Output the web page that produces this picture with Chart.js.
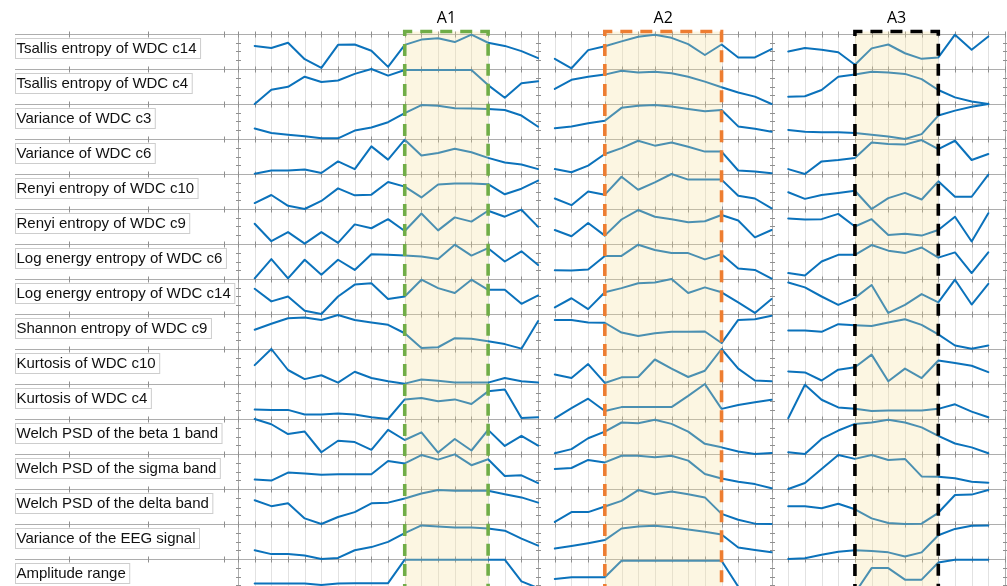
<!DOCTYPE html>
<html>
<head>
<meta charset="utf-8">
<title>Feature trends across segments A1, A2, A3</title>
<style>
  html, body { margin: 0; padding: 0; background: #ffffff; overflow: hidden; }
  #wrap { width: 1007px; height: 586px; position: relative; }
  canvas { display: block; }
</style>
<script src="https://cdn.jsdelivr.net/npm/chart.js@4.4.1/dist/chart.umd.min.js"></script>
</head>
<body>
<div id="wrap"><canvas id="chart" width="1007" height="586"></canvas></div>
<script>
// Feature names, one per row, top to bottom
const featureNames = [
  'Tsallis entropy of WDC c14',
  'Tsallis entropy of WDC c4',
  'Variance of WDC c3',
  'Variance of WDC c6',
  'Renyi entropy of WDC c10',
  'Renyi entropy of WDC c9',
  'Log energy entropy of WDC c6',
  'Log energy entropy of WDC c14',
  'Shannon entropy of WDC c9',
  'Kurtosis of WDC c10',
  'Kurtosis of WDC c4',
  'Welch PSD of the beta 1 band',
  'Welch PSD of the sigma band',
  'Welch PSD of the delta band',
  'Variance of the EEG signal',
  'Amplitude range'
];

// Epoch positions on the shared time axis (three recordings side by side)
const epochs = [
  0, 1, 2, 3, 4, 5, 6, 7, 8, 9, 10, 11, 12, 13, 14, 15, 16, 17,
  18, 19, 20, 21, 22, 23, 24, 25, 26, 27, 28, 29, 30, 31,
  32, 33, 34, 35, 36, 37, 38, 39, 40, 41, 42, 43, 44
];
// First and last epoch index of each recording
const panelFirst = [0, 18, 32];
const panelLast = [17, 31, 44];

// Marked segments
const regionNames = ['A1', 'A2', 'A3'];
const regionFrom = [9, 21, 36];
const regionTo = [14, 28, 41];

// Normalised feature level per epoch (0 = row minimum, 1 = row maximum)
const tsallisC14 = [
  0.66, 0.60, 0.75, 0.28, 0.03, 0.69, 0.70, 0.52, 0.06, 0.69, 0.84, 0.88, 0.77, 0.98, 0.75, 0.66, 0.51, 0.31,
  0.29, 0.02, 0.54, 0.65, 0.79, 0.92, 0.98, 0.89, 0.71, 0.40, 0.70, 0.33, 0.33, 0.57,
  0.50, 0.60, 0.55, 0.48, 0.12, 0.59, 0.70, 0.45, 0.29, 0.33, 0.98, 0.55, 0.93
];
const tsallisC4 = [
  0.00, 0.41, 0.49, 0.78, 0.63, 0.67, 0.86, 1.00, 0.81, 0.97, 0.97, 0.97, 0.97, 0.97, 0.54, 0.18, 0.59, 0.65,
  0.43, 0.69, 0.78, 0.84, 0.95, 0.90, 0.92, 0.88, 0.78, 0.64, 0.48, 0.33, 0.21, 0.00,
  0.21, 0.22, 0.40, 0.78, 0.84, 0.92, 0.90, 0.86, 0.71, 0.40, 0.19, 0.07, 0.00
];
const varianceC3 = [
  0.30, 0.17, 0.12, 0.08, 0.02, 0.02, 0.24, 0.33, 0.48, 0.74, 0.97, 0.95, 0.88, 0.87, 0.86, 0.83, 0.67, 0.35,
  0.31, 0.36, 0.45, 0.52, 0.89, 0.95, 0.97, 0.93, 0.86, 0.79, 0.83, 0.36, 0.29, 0.21,
  0.26, 0.21, 0.19, 0.19, 0.17, 0.12, 0.07, 0.00, 0.14, 0.67, 0.81, 0.92, 1.00
];
const varianceC6 = [
  0.01, 0.10, 0.10, 0.13, 0.03, 0.36, 0.14, 0.79, 0.41, 0.98, 0.53, 0.60, 0.72, 0.62, 0.46, 0.33, 0.27, 0.14,
  0.14, 0.05, 0.24, 0.57, 0.74, 0.95, 0.81, 0.90, 0.78, 0.64, 0.64, 0.10, 0.07, 0.02,
  0.14, 0.00, 0.36, 0.40, 0.46, 0.90, 0.86, 0.84, 0.97, 0.71, 0.95, 0.40, 0.57
];
const renyiC10 = [
  0.17, 0.40, 0.09, 0.00, 0.23, 0.59, 0.39, 0.41, 0.77, 0.64, 0.33, 0.70, 0.73, 0.73, 0.71, 0.42, 0.58, 0.81,
  0.30, 0.11, 0.50, 0.41, 0.92, 0.55, 0.76, 1.00, 0.84, 0.84, 0.84, 0.38, 0.30, 0.02,
  0.48, 0.29, 0.40, 0.46, 0.52, 0.00, 0.31, 0.46, 0.27, 0.79, 0.35, 0.35, 0.98
];
const renyiC9 = [
  0.58, 0.08, 0.34, 0.01, 0.34, 0.03, 0.56, 0.45, 0.71, 0.37, 0.87, 0.39, 0.76, 0.64, 0.95, 0.78, 0.98, 0.49,
  0.40, 0.22, 0.60, 0.24, 0.70, 0.97, 0.78, 0.71, 0.62, 0.65, 0.83, 0.67, 0.19, 0.40,
  0.73, 0.70, 0.71, 0.86, 0.50, 0.71, 0.26, 0.29, 0.24, 0.40, 0.78, 0.07, 0.88
];
const logEnergyC6 = [
  0.02, 0.57, 0.02, 0.55, 0.12, 0.55, 0.26, 0.71, 0.69, 0.67, 0.64, 0.57, 0.98, 0.67, 0.88, 0.50, 0.79, 0.40,
  0.25, 0.24, 0.27, 0.66, 0.66, 0.98, 0.83, 0.74, 0.74, 0.56, 0.71, 0.30, 0.26, 0.01,
  0.17, 0.10, 0.50, 0.69, 0.69, 0.97, 0.81, 0.74, 0.90, 0.61, 0.76, 0.17, 0.76
];
const logEnergyC14 = [
  0.72, 0.36, 0.50, 0.09, 0.00, 0.50, 0.84, 0.88, 0.43, 0.50, 0.98, 0.74, 0.60, 0.98, 0.69, 0.69, 0.29, 0.53,
  0.19, 0.45, 0.14, 0.62, 0.74, 0.88, 0.90, 1.00, 0.60, 0.76, 0.62, 0.33, 0.03, 0.43,
  0.90, 0.76, 0.50, 0.26, 0.46, 0.83, 0.03, 0.26, 0.57, 0.33, 0.98, 0.27, 0.86
];
const shannonC9 = [
  0.55, 0.72, 0.88, 0.90, 0.83, 0.97, 0.83, 0.76, 0.69, 0.45, 0.03, 0.05, 0.31, 0.29, 0.22, 0.14, 0.01, 0.80,
  0.83, 0.83, 0.76, 0.75, 0.47, 0.37, 0.45, 0.49, 0.49, 0.50, 0.17, 0.83, 0.85, 0.95,
  0.53, 0.53, 0.49, 0.71, 0.68, 0.66, 0.76, 0.85, 0.69, 0.42, 0.10, 0.01, 0.10
];
const kurtosisC10 = [
  0.54, 1.00, 0.40, 0.14, 0.25, 0.04, 0.35, 0.17, 0.08, 0.01, 0.13, 0.09, 0.04, 0.04, 0.04, 0.17, 0.08, 0.04,
  0.27, 0.17, 0.57, 0.03, 0.19, 0.20, 0.70, 0.44, 0.20, 0.38, 1.00, 0.44, 0.10, 0.08,
  0.36, 0.33, 0.10, 0.41, 0.48, 0.84, 0.08, 0.44, 0.17, 0.67, 0.60, 0.52, 0.34
];
const kurtosisC4 = [
  0.27, 0.26, 0.26, 0.13, 0.13, 0.16, 0.13, 0.05, 0.00, 0.56, 0.60, 0.51, 0.56, 0.43, 0.79, 0.84, 0.03, 0.05,
  0.02, 0.31, 0.58, 0.23, 0.34, 0.34, 0.34, 0.34, 0.66, 1.00, 0.29, 0.40, 0.48, 0.55,
  0.02, 0.98, 0.55, 0.33, 0.29, 0.23, 0.24, 0.24, 0.24, 0.29, 0.42, 0.21, 0.05
];
const welchBeta1 = [
  1.00, 0.85, 0.57, 0.64, 0.05, 0.38, 0.34, 0.12, 0.69, 0.40, 0.62, 0.04, 0.43, 0.10, 0.69, 0.23, 0.52, 0.24,
  0.02, 0.14, 0.45, 0.64, 0.90, 0.88, 0.98, 0.86, 0.64, 0.29, 0.19, 0.07, 0.00, 0.03,
  0.05, 0.00, 0.43, 0.67, 0.86, 0.90, 0.98, 0.90, 0.76, 0.52, 0.30, 0.19, 0.02
];
const welchSigma = [
  0.27, 0.24, 0.47, 0.44, 0.41, 0.42, 0.42, 0.42, 0.80, 0.73, 0.97, 0.84, 0.99, 0.68, 0.85, 0.37, 0.39, 0.17,
  0.57, 0.60, 0.83, 0.76, 0.95, 0.95, 0.91, 0.95, 0.81, 0.43, 0.30, 0.21, 0.14, 0.02,
  0.00, 0.17, 0.57, 0.97, 0.86, 0.97, 0.83, 0.86, 0.36, 0.35, 0.31, 0.21, 0.18
];
const welchDelta = [
  0.68, 0.51, 0.59, 0.16, 0.00, 0.20, 0.34, 0.59, 0.61, 0.73, 0.87, 0.97, 0.95, 0.95, 0.95, 0.85, 0.76, 0.61,
  0.06, 0.34, 0.34, 0.50, 0.66, 0.97, 0.85, 0.93, 0.85, 0.76, 0.29, 0.12, 0.01, 0.00,
  0.51, 0.51, 0.45, 0.58, 0.42, 0.16, 0.03, 0.00, 0.01, 0.32, 0.83, 0.84, 0.97
];
const varianceEeg = [
  0.25, 0.14, 0.14, 0.10, 0.00, 0.03, 0.25, 0.34, 0.49, 0.74, 0.96, 0.93, 0.90, 0.90, 0.87, 0.81, 0.58, 0.38,
  0.30, 0.37, 0.45, 0.54, 0.87, 0.93, 0.95, 0.91, 0.84, 0.78, 0.70, 0.33, 0.26, 0.19,
  0.00, 0.02, 0.12, 0.21, 0.25, 0.23, 0.19, 0.07, 0.19, 0.68, 0.86, 0.95, 0.96
];
const amplitudeRange = [
  0.30, 0.30, 0.30, 0.30, 0.26, 0.30, 0.31, 0.31, 0.31, 0.98, 0.98, 0.98, 0.98, 0.98, 0.98, 0.98, 0.36, 0.17,
  0.43, 0.48, 0.48, 0.48, 0.95, 0.95, 0.95, 0.95, 0.95, 0.95, 0.95, 0.21, 0.19, 0.10,
  0.05, 0.05, 0.05, 0.05, 0.03, 0.74, 0.74, 0.41, 0.41, 0.90, 0.98, 0.98, 0.98
];

const featureSeries = [
  tsallisC14, tsallisC4, varianceC3, varianceC6, renyiC10, renyiC9,
  logEnergyC6, logEnergyC14, shannonC9, kurtosisC10, kurtosisC4,
  welchBeta1, welchSigma, welchDelta, varianceEeg, amplitudeRange
];

// ---- styling ----
const ROWS = featureNames.length;
const ROW_PX = 35;
const PLOT_TOP = 34;
const CANVAS_H = 586;
const LABEL_LEFT = 15;
const LINE_COLOR = '#0b72bb';
const SHADE_COLOR = 'rgba(246, 222, 150, 0.28)';
const REGION_COLORS = ['#70ad47', '#ed7d31', '#000000'];
const GRID_COLOR = '#e2e2e2';
const ROW_LINE_COLOR = '#adadad';
const AXIS_COLOR = '#adadad';
const TICK_COLOR = '#8f8f8f';
const LABEL_FONT = '15px "Liberation Sans", Arial, sans-serif';
const TITLE_FONT = '16px "Open Sans", "Noto Sans", sans-serif';

// Each row occupies one unit on the y scale; row 0 sits at the top.
const datasets = [];
featureSeries.forEach((series, row) => {
  const base = ROWS - 1 - row;
  panelFirst.forEach((first, p) => {
    const pts = [];
    for (let i = first; i <= panelLast[p]; i++) {
      pts.push({ x: epochs[i], y: base + series[i] });
    }
    datasets.push({
      label: featureNames[row] + ' #' + (p + 1),
      data: pts,
      borderColor: LINE_COLOR,
      borderWidth: 2,
      pointRadius: 0,
      tension: 0,
      borderJoinStyle: 'round',
      borderCapStyle: 'round',
      clip: { left: 4, top: 4, right: 4, bottom: 0 }
    });
  });
});

function strokeLine(ctx, x1, y1, x2, y2) {
  ctx.beginPath();
  ctx.moveTo(x1, y1);
  ctx.lineTo(x2, y2);
  ctx.stroke();
}

const panelDecor = {
  id: 'panelDecor',
  beforeDraw(chart) {
    const ctx = chart.ctx;
    ctx.save();
    ctx.fillStyle = '#ffffff';
    ctx.fillRect(0, 0, chart.width, chart.height);
    ctx.restore();
  },
  beforeDatasetsDraw(chart) {
    const { ctx } = chart;
    const x = chart.scales.x, y = chart.scales.y;
    const top = y.getPixelForValue(ROWS);
    const bottom = chart.height;
    const xMin = x.min, xMax = x.max;
    ctx.save();
    ctx.lineWidth = 1;

    // vertical grid at every epoch
    ctx.strokeStyle = GRID_COLOR;
    for (let g = xMin; g <= xMax; g++) {
      const px = Math.round(x.getPixelForValue(g)) + 0.5;
      strokeLine(ctx, px, top, px, bottom);
    }

    // recording axes
    ctx.strokeStyle = AXIS_COLOR;
    const axisAt = [xMin, panelLast[0], panelLast[1], xMax];
    axisAt.forEach(g => {
      const px = Math.round(x.getPixelForValue(g)) + 0.5;
      strokeLine(ctx, px, top, px, bottom);
    });

    // row separators
    ctx.strokeStyle = ROW_LINE_COLOR;
    for (let k = 0; k <= ROWS; k++) {
      const py = Math.round(y.getPixelForValue(ROWS - k)) + 0.5;
      strokeLine(ctx, LABEL_LEFT, py, x.right, py);
    }

    // tick marks on row separators
    ctx.strokeStyle = TICK_COLOR;
    for (let k = 0; k <= ROWS; k++) {
      const py = Math.round(y.getPixelForValue(ROWS - k)) + 0.5;
      for (let g = xMin; g <= xMax; g++) {
        const px = Math.round(x.getPixelForValue(g)) + 0.5;
        strokeLine(ctx, px, py - 3, px, py + 3);
      }
      [69, 148, 224].forEach(lx => strokeLine(ctx, lx + 0.5, py - 3, lx + 0.5, py + 3));
    }
    // tick marks on recording axes
    axisAt.forEach(g => {
      const px = Math.round(x.getPixelForValue(g)) + 0.5;
      for (let k = 0; k < ROWS; k++) {
        [0.25, 0.5, 0.75].forEach(f => {
          const py = Math.round(y.getPixelForValue(ROWS - k - f)) + 0.5;
          strokeLine(ctx, px - 2.5, py, px + 2.5, py);
        });
      }
    });

    // feature labels in boxes
    ctx.font = LABEL_FONT;
    ctx.textBaseline = 'middle';
    ctx.textAlign = 'left';
    featureNames.forEach((name, k) => {
      const rowTop = y.getPixelForValue(ROWS - k);
      const w = ctx.measureText(name).width;
      const bx = LABEL_LEFT + 0.5, by = Math.round(rowTop + 4) + 0.5;
      ctx.fillStyle = '#ffffff';
      ctx.fillRect(bx, by, w + 5, 20);
      ctx.strokeStyle = '#cdcdcd';
      ctx.strokeRect(bx, by, w + 5, 20);
      ctx.fillStyle = '#111111';
      ctx.fillText(name, LABEL_LEFT + 1.5, rowTop + 14.5);
    });
    ctx.restore();
  },
  afterDatasetsDraw(chart) {
    const { ctx } = chart;
    const x = chart.scales.x, y = chart.scales.y;
    const boxTop = y.getPixelForValue(ROWS) - 2.5;
    ctx.save();
    regionNames.forEach((name, r) => {
      const x1 = x.getPixelForValue(epochs[regionFrom[r]]);
      const x2 = x.getPixelForValue(epochs[regionTo[r]]);
      // shaded segment
      ctx.fillStyle = SHADE_COLOR;
      ctx.fillRect(x1, boxTop, x2 - x1, chart.height - boxTop);
      // dashed outline
      ctx.strokeStyle = REGION_COLORS[r];
      ctx.lineWidth = 3.6;
      ctx.setLineDash([12, 8]);
      ctx.beginPath();
      ctx.moveTo(x1, chart.height + 10);
      ctx.lineTo(x1, boxTop);
      ctx.lineTo(x2, boxTop);
      ctx.lineTo(x2, chart.height + 10);
      ctx.stroke();
      ctx.setLineDash([]);
      // segment title
      ctx.fillStyle = '#000000';
      ctx.font = TITLE_FONT;
      ctx.textAlign = 'center';
      ctx.textBaseline = 'middle';
      ctx.fillText(name, (x1 + x2) / 2, 18);
    });
    ctx.restore();
  }
};

new Chart(document.getElementById('chart'), {
  type: 'line',
  data: { datasets },
  options: {
    responsive: false,
    animation: false,
    devicePixelRatio: 1,
    layout: { padding: { left: 238, right: 2, top: PLOT_TOP, bottom: 0 } },
    scales: {
      x: { type: 'linear', min: -1, max: 45, display: false },
      y: { type: 'linear', min: ROWS - (CANVAS_H - PLOT_TOP) / ROW_PX, max: ROWS, display: false }
    },
    plugins: { legend: { display: false }, tooltip: { enabled: false } }
  },
  plugins: [panelDecor]
});
</script>
</body>
</html>
